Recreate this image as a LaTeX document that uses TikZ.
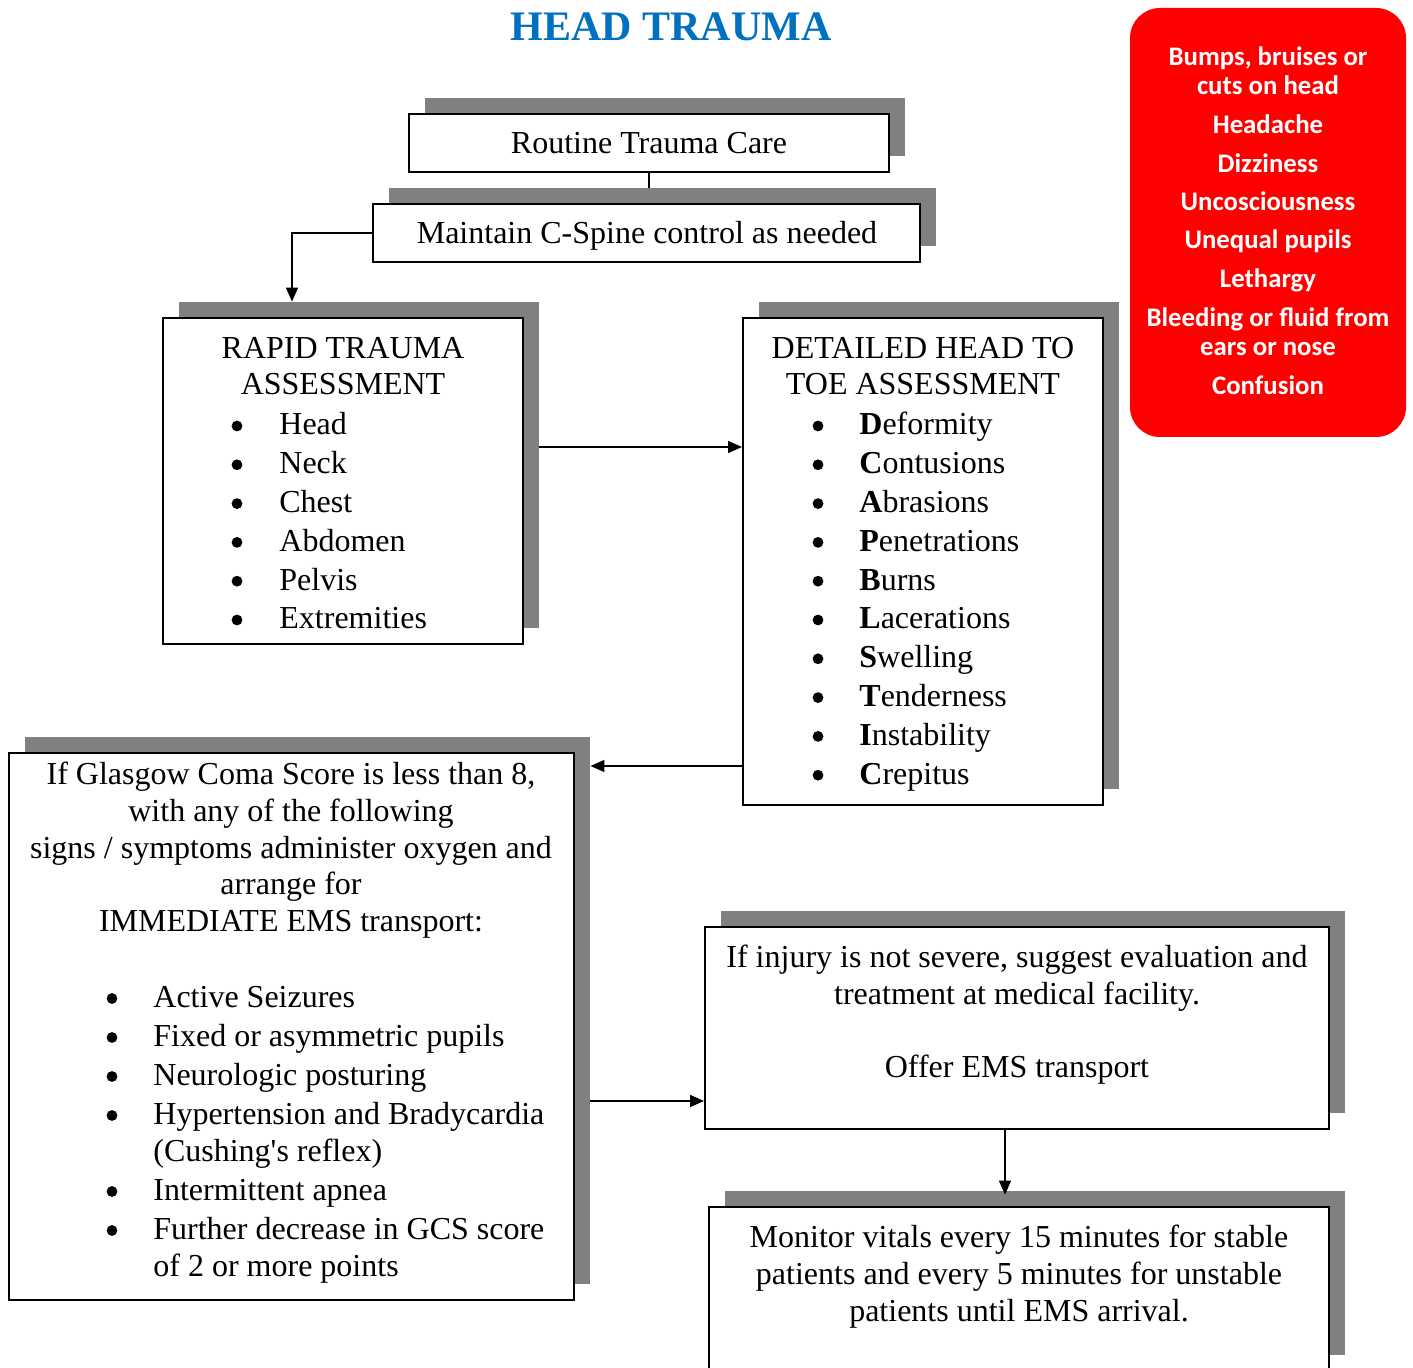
\documentclass[tikz,border=0pt]{standalone}
\usepackage{fontspec}
\setmainfont{Liberation Serif}
\newfontfamily\calibri{Carlito}
\usetikzlibrary{arrows.meta,calc}
\definecolor{shadowgray}{HTML}{808080}
\definecolor{titleblue}{HTML}{0070C0}
\definecolor{alertred}{HTML}{FF0000}
\begin{document}
\begin{tikzpicture}[x=0.5pt,y=-0.5pt,
  box/.style={draw=black,line width=1pt,fill=white,inner sep=0pt},
  boxshadow/.style={fill=shadowgray,draw=none,inner sep=0pt},
  txt/.style={font=\fontsize{16}{19}\selectfont,inner sep=0pt},
  bul/.style={circle,fill=black,draw=none,inner sep=0pt,minimum size=5.4pt},
  redtxt/.style={font=\calibri\bfseries\fontsize{13.4}{15}\selectfont,text=white,inner sep=0pt,anchor=base},
  link/.style={line width=0.75pt},
  arr/.style={line width=0.75pt,-{Triangle[length=7pt,width=6pt]}}
]
\useasboundingbox (0,0) rectangle (1413,1368);

% title
\node[anchor=base,inner sep=0pt,font=\bfseries\fontsize{21}{25}\selectfont,text=titleblue] (title) at (671,41) {HEAD TRAUMA};

% red panel of signs
\node[fill=alertred,draw=none,rounded corners=15pt,minimum width=138pt,minimum height=214.5pt] (signs) at (1268,222.5) {};
\node[redtxt] (s1) at (1268,66) {Bumps, bruises or};
\node[redtxt] (s2) at (1268,95) {cuts on head};
\node[redtxt] (s3) at (1268,134) {Headache};
\node[redtxt] (s4) at (1268,173) {Dizziness};
\node[redtxt] (s5) at (1268,211) {Uncosciousness};
\node[redtxt] (s6) at (1268,249) {Unequal pupils};
\node[redtxt] (s7) at (1268,288) {Lethargy};
\node[redtxt] (s8) at (1268,327) {Bleeding or fluid from};
\node[redtxt] (s9) at (1268,356) {ears or nose};
\node[redtxt] (s10) at (1268,395) {Confusion};

% shadows
\node[boxshadow,minimum width=240pt,minimum height=29pt] (b1s) at (665,127) {};
\node[boxshadow,minimum width=273.5pt,minimum height=29pt] (b2s) at (662.5,217) {};
\node[boxshadow,minimum width=180pt,minimum height=163pt] (b3s) at (359,465) {};
\node[boxshadow,minimum width=180pt,minimum height=243.5pt] (b4s) at (939,545.5) {};
\node[boxshadow,minimum width=282.5pt,minimum height=273.5pt] (b5s) at (307.5,1010.5) {};
\node[boxshadow,minimum width=312pt,minimum height=101pt] (b6s) at (1033,1012) {};
\node[boxshadow,minimum width=310pt,minimum height=82pt] (b7s) at (1035,1273) {};

% boxes
\node[box,minimum width=240pt,minimum height=29pt] (b1) at (649,143) {};
\node[box,minimum width=273.5pt,minimum height=29pt] (b2) at (646.5,233) {};
\node[box,minimum width=180pt,minimum height=163pt] (b3) at (343,481) {};
\node[box,minimum width=180pt,minimum height=243.5pt] (b4) at (923,561.5) {};
\node[box,minimum width=282.5pt,minimum height=273.5pt] (b5) at (291.5,1026.5) {};
\node[box,minimum width=312pt,minimum height=101pt] (b6) at (1017,1028) {};
\node[box,minimum width=310pt,minimum height=82pt] (b7) at (1019,1289) {};

% texts of the upper boxes
\node[txt,anchor=base] (t1) at (649,154) {Routine Trauma Care};
\node[txt,anchor=base] (t2) at (647,244) {Maintain C-Spine control as needed};

% rapid trauma assessment
\node[txt,anchor=base] (r0) at (343,359) {RAPID TRAUMA};
\node[txt,anchor=base] (r1) at (343,395) {ASSESSMENT};
\foreach \w [count=\i from 0] in {Head,Neck,Chest,Abdomen,Pelvis,Extremities}{
  \node[bul] (rb\i) at (237,{426+38.8*\i}) {};
  \node[txt,anchor=base west] (ri\i) at (279,{435+38.8*\i}) {\w};
}

% detailed head to toe assessment
\node[txt,anchor=base] (d0) at (923,359) {DETAILED HEAD TO};
\node[txt,anchor=base] (d1) at (923,395) {TOE ASSESSMENT};
\foreach \w [count=\i from 0] in {\textbf{D}eformity,\textbf{C}ontusions,\textbf{A}brasions,\textbf{P}enetrations,\textbf{B}urns,\textbf{L}acerations,\textbf{S}welling,\textbf{T}enderness,\textbf{I}nstability,\textbf{C}repitus}{
  \node[bul] (db\i) at (818,{426+38.8*\i}) {};
  \node[txt,anchor=base west] (di\i) at (859,{435+38.8*\i}) {\w};
}

% glasgow coma score box
\node[txt,anchor=base] (g0) at (291,784) {If Glasgow Coma Score is less than 8,};
\node[txt,anchor=base] (g1) at (291,821) {with any of the following};
\node[txt,anchor=base] (g2) at (291,858) {signs / symptoms administer oxygen and};
\node[txt,anchor=base] (g3) at (291,894) {arrange for};
\node[txt,anchor=base] (g4) at (291,931) {IMMEDIATE EMS transport:};
\foreach \y [count=\i] in {1007,1046,1085,1124,1200,1239}{
  \node[bul] (gb\i) at (112,\y-8.5) {};
}
\node[txt,anchor=base west] (gi1) at (153,1007) {Active Seizures};
\node[txt,anchor=base west] (gi2) at (153,1046) {Fixed or asymmetric pupils};
\node[txt,anchor=base west] (gi3) at (153,1085) {Neurologic posturing};
\node[txt,anchor=base west] (gi4) at (153,1124) {Hypertension and Bradycardia};
\node[txt,anchor=base west] (gi4b) at (153,1161) {(Cushing\textquotesingle s reflex)};
\node[txt,anchor=base west] (gi5) at (153,1200) {Intermittent apnea};
\node[txt,anchor=base west] (gi6) at (153,1239) {Further decrease in GCS score};
\node[txt,anchor=base west] (gi6b) at (153,1276) {of 2 or more points};

% non-severe injury box
\node[txt,anchor=base] (n0) at (1017,967) {If injury is not severe, suggest evaluation and};
\node[txt,anchor=base] (n1) at (1017,1004) {treatment at medical facility.};
\node[txt,anchor=base] (n2) at (1017,1077) {Offer EMS transport};

% monitoring box
\node[txt,anchor=base] (m0) at (1019,1247) {Monitor vitals every 15 minutes for stable};
\node[txt,anchor=base] (m1) at (1019,1284) {patients and every 5 minutes for unstable};
\node[txt,anchor=base] (m2) at (1019,1321) {patients until EMS arrival.};

% connectors
\draw[link] (b1.south) -- (b1.south |- b2s.north);
\draw[arr] (b2.west) -| ([xshift=-33.5pt]b3s.north);
\draw[arr] ([yshift=9pt]b3s.east) coordinate (c34) -- (c34 -| b4.west);
\draw[arr] ([yshift=-102.25pt]b4.west) coordinate (c45) -- (c45 -| b5s.east);
\coordinate (c56) at ([yshift=-36.5pt]b6.west);
\draw[arr] (c56 -| b5s.east) -- (c56);
\draw[arr] ([xshift=-6pt]b6.south) coordinate (c67) -- ([yshift=-2pt]c67 |- b7s.north);
\end{tikzpicture}
\end{document}
